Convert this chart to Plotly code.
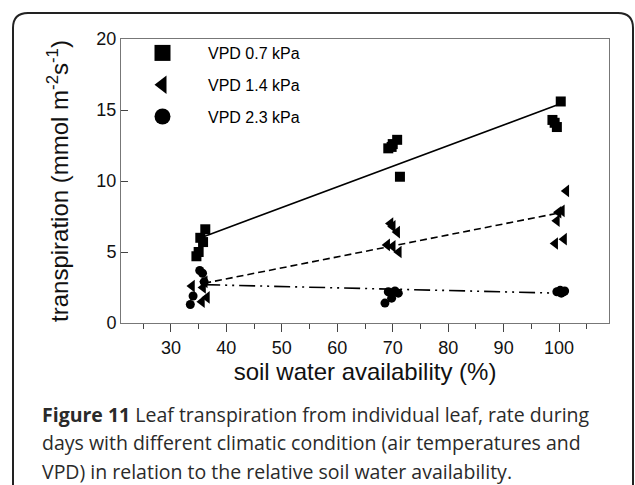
import plotly.graph_objects as go

# ---- data ----
sq_x = [36.2, 35.3, 35.8, 34.6, 35.0, 69.2, 69.8, 70.0, 70.8, 71.3, 100.3, 98.8, 99.2, 99.6]
sq_y = [6.6, 6.0, 5.7, 4.7, 5.0, 12.3, 12.4, 12.6, 12.9, 10.3, 15.6, 14.3, 14.1, 13.8]

tri_x = [33.8, 36.1, 35.8, 36.5, 35.6, 69.6, 70.0, 70.8, 69.0, 70.0, 71.1, 101.3, 100.5, 99.9, 99.6, 100.9, 99.3]
tri_y = [2.6, 2.9, 2.5, 1.8, 1.5, 7.0, 6.8, 6.4, 5.5, 5.4, 5.0, 9.3, 7.9, 7.8, 7.2, 5.9, 5.6]

cir_x = [33.5, 34.0, 35.2, 35.7, 36.0, 68.6, 69.8, 69.2, 71.0, 70.4, 99.6, 100.2, 100.8, 100.4, 101.0]
cir_y = [1.3, 1.9, 3.7, 3.5, 2.9, 1.4, 1.75, 2.2, 2.1, 2.25, 2.2, 2.3, 2.2, 2.1, 2.25]

fit_sq_x = [36.0, 100.0]
fit_sq_y = [6.1, 15.4]
fit_tri_x = [36.0, 100.0]
fit_tri_y = [2.8, 7.75]
fit_cir_x = [36.0, 100.0]
fit_cir_y = [2.7, 2.1]

names = ["VPD 0.7 kPa", "VPD 1.4 kPa", "VPD 2.3 kPa"]

caption_lines = [
    "<b>Figure 11</b> Leaf transpiration from individual leaf, rate during",
    "days with different climatic condition (air temperatures and",
    "VPD) in relation to the relative soil water availability.",
]

# ---- layout geometry (pixels) ----
W, H = 635, 485
L, R, T, B = 121, 609, 39, 323


def px(x):
    return (x - L) / (R - L)


def py(y):
    return (B - y) / (B - T)


fig = go.Figure()

# fit lines
fig.add_trace(go.Scatter(x=fit_sq_x, y=fit_sq_y, mode="lines",
                         line=dict(color="black", width=1.6), showlegend=False, hoverinfo="skip"))
fig.add_trace(go.Scatter(x=fit_tri_x, y=fit_tri_y, mode="lines",
                         line=dict(color="black", width=1.6, dash="7px,4px"), showlegend=False, hoverinfo="skip"))
fig.add_trace(go.Scatter(x=fit_cir_x, y=fit_cir_y, mode="lines",
                         line=dict(color="black", width=1.6, dash="16px,5px,2px,5px,2px,5px"),
                         showlegend=False, hoverinfo="skip"))

# data points
fig.add_trace(go.Scatter(x=sq_x, y=sq_y, mode="markers", name=names[0],
                         marker=dict(symbol="square", size=10, color="black"), showlegend=False))
fig.add_trace(go.Scatter(x=tri_x, y=tri_y, mode="markers", name=names[1],
                         marker=dict(symbol="triangle-left", size=11, color="black"), showlegend=False))
fig.add_trace(go.Scatter(x=cir_x, y=cir_y, mode="markers", name=names[2],
                         marker=dict(symbol="circle", size=9, color="black"), showlegend=False))

# legend entries (larger symbols)
for nm, sym, g in zip(names, ["square", "triangle-left", "circle"], ["a", "b", "c"]):
    fig.add_trace(go.Scatter(x=[None], y=[None], mode="markers", name=nm, legendgroup=g,
                             marker=dict(symbol=sym, size=20, color="black")))

font_ax = "Arial, Liberation Sans, sans-serif"

fig.update_layout(
    width=W, height=H,
    margin=dict(l=L, r=W - R, t=T, b=H - B, pad=0),
    paper_bgcolor="white", plot_bgcolor="white",
    font=dict(family=font_ax, color="black"),
    showlegend=True,
    legend=dict(x=px(117), y=py(36), xanchor="left", yanchor="top",
                bgcolor="rgba(0,0,0,0)", borderwidth=0,
                font=dict(size=16, family=font_ax, color="black"),
                itemwidth=81, tracegroupgap=8, itemsizing="trace"),
    xaxis=dict(range=[21, 109], tick0=0, dtick=10, ticks="outside", ticklen=8,
               tickwidth=1, tickcolor="#444", showline=True, linecolor="#777", linewidth=1,
               mirror=True, showgrid=False, zeroline=False,
               tickfont=dict(size=18, family=font_ax, color="#111"),
               minor=dict(dtick=5, tick0=0, ticks="outside", ticklen=5, tickcolor="#444", showgrid=False),
               title=dict(text="soil water availability (%)", font=dict(size=24, family=font_ax, color="#111"),
                          standoff=5)),
    yaxis=dict(range=[0, 20], dtick=5, ticks="inside", ticklen=7, tickwidth=1, tickcolor="#444",
               showline=True, linecolor="#777", linewidth=1, mirror=True,
               showgrid=False, zeroline=False,
               tickfont=dict(size=18, family=font_ax, color="#111"),
               title=dict(text="transpiration (mmol m<sup>-2</sup>s<sup>-1</sup>)",
                          font=dict(size=24, family=font_ax, color="#111"), standoff=20)),
)

# card border (rounded rectangle, bottom cut off)
x0, x1, y0, r = 13, 633, 13, 15
yb = 520
path = (f"M {px(x0)},{py(yb)} L {px(x0)},{py(y0 + r)} Q {px(x0)},{py(y0)} {px(x0 + r)},{py(y0)} "
        f"L {px(x1 - r)},{py(y0)} Q {px(x1)},{py(y0)} {px(x1)},{py(y0 + r)} L {px(x1)},{py(yb)}")
fig.add_shape(type="path", xref="paper", yref="paper", path=path,
              line=dict(color="#222", width=2))

# caption
cap_font = dict(family="Open Sans, Noto Sans, sans-serif", size=19.5, color="#2a2a2a")
for i, line in enumerate(caption_lines):
    fig.add_annotation(text=line, xref="paper", yref="paper", x=px(40), y=py(414 + 28.5 * i),
                       xanchor="left", yanchor="middle", showarrow=False, font=cap_font, align="left")

fig.write_html("out.html")
